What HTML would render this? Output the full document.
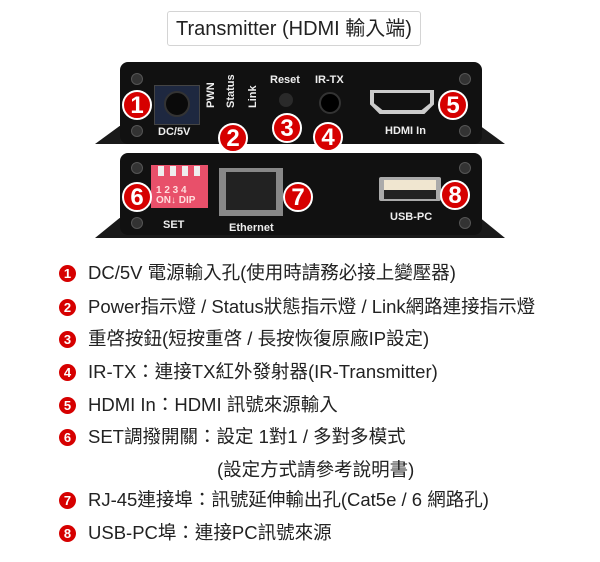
<!DOCTYPE html>
<html><head><meta charset="utf-8"><style>
body{margin:0;width:600px;height:562px;background:#fff;position:relative;overflow:hidden;font-family:"Liberation Sans","Noto Sans CJK TC",sans-serif}
.a{position:absolute}
.title{left:167px;top:11px;width:254px;height:35px;border:1px solid #d4d4d4;border-radius:3px;font-size:20px;line-height:35px;text-align:center;color:#222;box-sizing:border-box}
.body{background:#111;border-radius:8px}
.flange{background:#1a1a1a}
.rc{position:absolute;width:30px;height:30px;border-radius:50%;background:#d60000;border:2px solid #fff;box-sizing:border-box;color:#fff;font:bold 24px/27px "Liberation Sans",sans-serif;text-align:center}
.lbl{position:absolute;color:#eee;font:bold 11px "Liberation Sans",sans-serif}
.screw{position:absolute;width:10px;height:10px;border-radius:50%;background:#333;border:1px solid #555}
.row{position:absolute;left:59px;font-size:18.5px;color:#222;white-space:nowrap;line-height:20px}
.dot{display:inline-block;width:17px;height:17px;border-radius:50%;background:#d60000;color:#fff;font:bold 13px/17px "Liberation Sans",sans-serif;text-align:center;vertical-align:1px;margin-right:12px}
</style></head><body>
<div class="a title">Transmitter (HDMI 輸入端)</div>

<div class="a flange" style="left:95px;top:126px;width:410px;height:18px;clip-path:polygon(6% 0,94% 0,100% 100%,0 100%)"></div>
<div class="a body" style="left:120px;top:62px;width:362px;height:82px"></div>
<div class="screw" style="left:131px;top:73px"></div><div class="screw" style="left:131px;top:125px"></div>
<div class="screw" style="left:459px;top:73px"></div><div class="screw" style="left:459px;top:125px"></div>
<div class="a" style="left:154px;top:85px;width:44px;height:38px;background:#1e2840;border:1px solid #444"></div>
<div class="a" style="left:164px;top:91px;width:22px;height:22px;border-radius:50%;background:#0a0a0a;border:2px solid #333"></div>
<div class="lbl" style="left:158px;top:126px">DC/5V</div>
<div class="lbl" style="left:205px;top:108px;transform:rotate(-90deg);transform-origin:left top">PWN</div>
<div class="lbl" style="left:225px;top:108px;transform:rotate(-90deg);transform-origin:left top">Status</div>
<div class="lbl" style="left:247px;top:108px;transform:rotate(-90deg);transform-origin:left top">Link</div>
<div class="lbl" style="left:270px;top:74px">Reset</div>
<div class="lbl" style="left:315px;top:74px">IR-TX</div>
<div class="a" style="left:279px;top:93px;width:14px;height:14px;border-radius:50%;background:#2a2a2a"></div>
<div class="a" style="left:319px;top:92px;width:18px;height:18px;border-radius:50%;background:#000;border:2px solid #333"></div>
<div class="a" style="left:370px;top:90px;width:64px;height:24px;background:#ccc;clip-path:polygon(0 0,100% 0,100% 60%,85% 100%,15% 100%,0 60%)"></div>
<div class="a" style="left:374px;top:93px;width:56px;height:17px;background:#111;clip-path:polygon(0 0,100% 0,100% 60%,85% 100%,15% 100%,0 60%)"></div>
<div class="lbl" style="left:385px;top:125px">HDMI In</div>

<div class="a flange" style="left:95px;top:218px;width:410px;height:20px;clip-path:polygon(6% 0,94% 0,100% 100%,0 100%)"></div>
<div class="a body" style="left:120px;top:153px;width:362px;height:82px"></div>
<div class="screw" style="left:131px;top:162px"></div><div class="screw" style="left:131px;top:217px"></div>
<div class="screw" style="left:459px;top:162px"></div><div class="screw" style="left:459px;top:217px"></div>
<div class="a" style="left:151px;top:165px;width:57px;height:43px;background:#e8506a"></div>
<div class="a" style="left:158px;top:166px;width:6px;height:10px;background:#eee;box-shadow:12px 0 #eee,24px 0 #eee,36px 0 #eee"></div>
<div class="a" style="left:156px;top:186px;color:#fdd;font:bold 10px/10px 'Liberation Sans',sans-serif">1 2 3 4<br>ON↓ DIP</div>
<div class="lbl" style="left:163px;top:219px">SET</div>
<div class="a" style="left:219px;top:168px;width:64px;height:48px;background:#888"></div>
<div class="a" style="left:226px;top:172px;width:50px;height:38px;background:#222"></div>
<div class="lbl" style="left:229px;top:222px">Ethernet</div>
<div class="a" style="left:379px;top:177px;width:62px;height:24px;background:#aaa;border-radius:2px"></div>
<div class="a" style="left:384px;top:180px;width:52px;height:10px;background:#f0e6d0"></div>
<div class="a" style="left:384px;top:190px;width:52px;height:9px;background:#222"></div>
<div class="lbl" style="left:390px;top:211px">USB-PC</div>

<div class="rc" style="left:122px;top:90px">1</div>
<div class="rc" style="left:218px;top:123px">2</div>
<div class="rc" style="left:272px;top:113px">3</div>
<div class="rc" style="left:313px;top:122px">4</div>
<div class="rc" style="left:438px;top:90px">5</div>
<div class="rc" style="left:122px;top:182px">6</div>
<div class="rc" style="left:283px;top:182px">7</div>
<div class="rc" style="left:440px;top:180px">8</div>

<div class="row" style="top:263px"><span class="dot">1</span>DC/5V 電源輸入孔(使用時請務必接上變壓器)</div>
<div class="row" style="top:297px"><span class="dot">2</span>Power指示燈 / Status狀態指示燈 / Link網路連接指示燈</div>
<div class="row" style="top:329px"><span class="dot">3</span>重啓按鈕(短按重啓 / 長按恢復原廠IP設定)</div>
<div class="row" style="top:362px"><span class="dot">4</span>IR-TX：連接TX紅外發射器(IR-Transmitter)</div>
<div class="row" style="top:395px"><span class="dot">5</span>HDMI In：HDMI 訊號來源輸入</div>
<div class="row" style="top:427px"><span class="dot">6</span>SET調撥開關：設定 1對1 / 多對多模式</div>
<div class="row" style="top:460px;left:217px">(設定方式請參考說明書)</div>
<div class="row" style="top:490px"><span class="dot">7</span>RJ-45連接埠：訊號延伸輸出孔(Cat5e / 6 網路孔)</div>
<div class="row" style="top:523px"><span class="dot">8</span>USB-PC埠：連接PC訊號來源</div>
</body></html>
